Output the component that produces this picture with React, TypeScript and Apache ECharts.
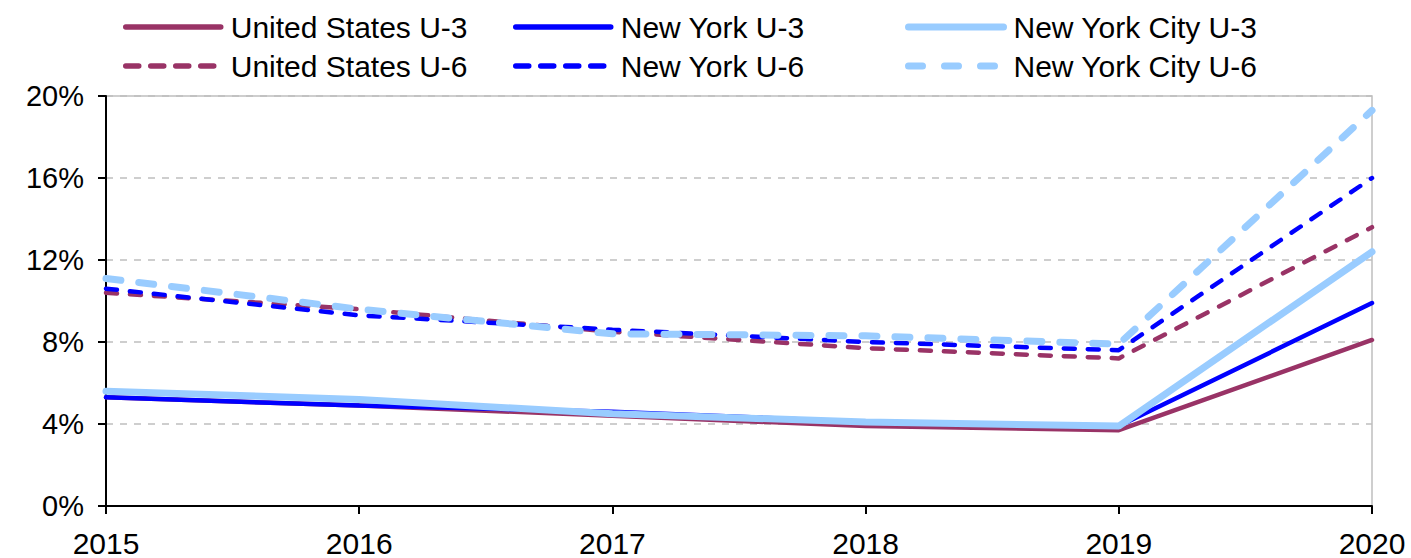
import React, { useEffect, useRef } from "react";
import * as echarts from "echarts";

const years = ["2015", "2016", "2017", "2018", "2019", "2020"];
const usU3 = [5.3, 4.9, 4.4, 3.9, 3.7, 8.1];
const nyU3 = [5.3, 4.9, 4.6, 4.1, 3.9, 9.9];
const nycU3 = [5.6, 5.2, 4.5, 4.1, 3.9, 12.4];
const usU6 = [10.4, 9.6, 8.5, 7.7, 7.2, 13.6];
const nyU6 = [10.6, 9.3, 8.6, 8.0, 7.6, 16.0];
const nycU6 = [11.1, 9.6, 8.4, 8.3, 7.9, 19.3];

const PLUM = "#993366";
const BLUE = "#0000FF";
const LIGHT = "#99CCFF";
const FONT = "'Liberation Sans', Arial, sans-serif";

type S = { name: string; data: number[]; color: string; width: number; dash: number[] | "solid"; legendDash: number[] | "solid" };
const seriesDefs: S[] = [
  { name: "United States U-3", data: usU3, color: PLUM, width: 4.5, dash: "solid", legendDash: "solid" },
  { name: "New York U-3", data: nyU3, color: BLUE, width: 4.5, dash: "solid", legendDash: "solid" },
  { name: "New York City U-3", data: nycU3, color: LIGHT, width: 7, dash: "solid", legendDash: "solid" },
  { name: "United States U-6", data: usU6, color: PLUM, width: 4.5, dash: [11, 13], legendDash: [13, 12] },
  { name: "New York U-6", data: nyU6, color: BLUE, width: 4.5, dash: [11, 13], legendDash: [13, 12] },
  { name: "New York City U-6", data: nycU6, color: LIGHT, width: 7, dash: [15, 18], legendDash: [14, 22] },
];

const legendCols = [
  { left: 123, names: ["United States U-3", "United States U-6"] },
  { left: 513, names: ["New York U-3", "New York U-6"] },
  { left: 905, names: ["New York City U-3", "New York City U-6"] },
];

export default function App() {
  const ref = useRef<HTMLDivElement>(null);
  useEffect(() => {
    if (!ref.current) return;
    const chart = echarts.init(ref.current, undefined, { renderer: "svg" });
    const byName: Record<string, S> = {};
    seriesDefs.forEach((s) => (byName[s.name] = s));
    chart.setOption({
      animation: false,
      legend: legendCols.map((c) => ({
        orient: "vertical",
        left: c.left,
        top: 12,
        padding: 0,
        itemWidth: 95,
        itemHeight: 30,
        itemGap: 9,
        selectedMode: false,
        textStyle: {
          fontFamily: FONT,
          fontSize: 30,
          color: "#000",
          lineHeight: 30,
          padding: [0, 0, 0, 5],
        },
        data: c.names.map((n) => ({
          name: n,
          itemStyle: { opacity: 0, color: "transparent", borderWidth: 0 },
          lineStyle: {
            width: byName[n].width === 7 ? 7 : 5.5,
            type: byName[n].legendDash,
            cap: "round",
            color: byName[n].color,
          },
        })),
      })),
      grid: {
        left: 106,
        right: 39,
        top: 96,
        bottom: 52,
        show: true,
        borderColor: "#BFBFBF",
        borderWidth: 1.5,
        backgroundColor: "transparent",
      },
      xAxis: {
        type: "category",
        data: years,
        boundaryGap: false,
        axisLine: { show: true, lineStyle: { color: "#000", width: 2 } },
        axisTick: { show: true, length: 8, alignWithLabel: true, lineStyle: { color: "#000", width: 2 } },
        axisLabel: { fontFamily: FONT, fontSize: 30, color: "#000", margin: 22 },
        splitLine: { show: false },
      },
      yAxis: {
        type: "value",
        min: 0,
        max: 20,
        interval: 4,
        axisLine: { show: true, lineStyle: { color: "#000", width: 2 } },
        axisTick: { show: true, length: 8, lineStyle: { color: "#000", width: 2 } },
        axisLabel: { fontFamily: FONT, fontSize: 29, color: "#000", margin: 22, formatter: "{value}%" },
        splitLine: { show: true, lineStyle: { color: "#BFBFBF", width: 1.5, type: [7, 7] } },
      },
      series: seriesDefs.map((s) => ({
        name: s.name,
        type: "line",
        data: s.data,
        symbol: "none",
        color: s.color,
        lineStyle: { color: s.color, width: s.width, type: s.dash, cap: "round" },
      })),
    });
    return () => chart.dispose();
  }, []);
  return <div ref={ref} style={{ position: "absolute", left: 0, top: 0, width: 1411, height: 558 }} />;
}
